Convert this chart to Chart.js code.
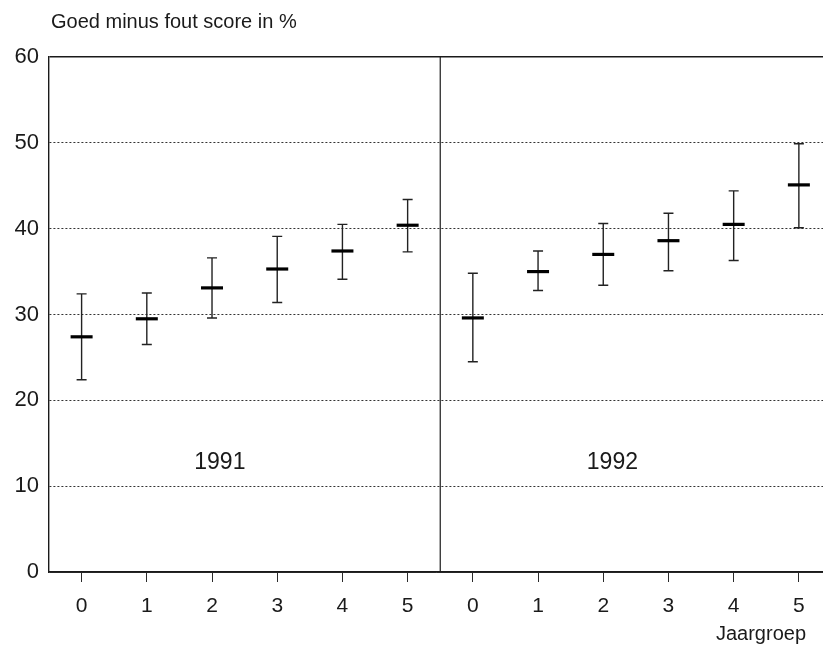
<!DOCTYPE html>
<html>
<head>
<meta charset="utf-8">
<script src="https://cdn.jsdelivr.net/npm/chart.js@4.4.1/dist/chart.umd.min.js"></script>
<style>
  html, body { margin: 0; padding: 0; background: #fff; }
  #wrap { width: 823px; height: 659px; }
</style>
</head>
<body>
<div id="wrap"><canvas id="chart" width="823" height="659"></canvas></div>
<script>
'use strict';

// groepen en jaargroepen
const jaren = ['1991', '1992'];
const jaargroepen = ['0', '1', '2', '3', '4', '5'];
const tickLabels = [...jaargroepen, ...jaargroepen];
const yTicks = [0, 10, 20, 30, 40, 50, 60];

// goed minus fout score (%), gemiddelde en spreiding per jaargroep
const gem1991 = [27.4, 29.5, 33.1, 35.3, 37.4, 40.4];
const hoog1991 = [32.4, 32.5, 36.6, 39.1, 40.5, 43.4];
const laag1991 = [22.4, 26.5, 29.6, 31.4, 34.1, 37.3];
const gem1992 = [29.6, 35.0, 37.0, 38.6, 40.5, 45.1];
const hoog1992 = [34.8, 37.4, 40.6, 41.8, 44.4, 49.9];
const laag1992 = [24.5, 32.8, 33.4, 35.1, 36.3, 40.1];

const gemiddelden = [...gem1991, ...gem1992];
const hoog = [...hoog1991, ...hoog1992];
const laag = [...laag1991, ...laag1992];

const FONT = "'Liberation Sans', Arial, Helvetica, sans-serif";
const INK = '#1a1a1a';

// snorharen (foutbalken) onder de gemiddelden
const errorBars = {
    id: 'errorBars',
    beforeDatasetsDraw(chart) {
        const { ctx, scales: { x, y } } = chart;
        ctx.save();
        ctx.strokeStyle = '#222';
        ctx.lineWidth = 1.4;
        hoog.forEach((hi, i) => {
            const px = x.getPixelForValue(i);
            const yHi = y.getPixelForValue(hi);
            const yLo = y.getPixelForValue(laag[i]);
            ctx.beginPath();
            ctx.moveTo(px, yHi); ctx.lineTo(px, yLo);
            ctx.moveTo(px - 5, yHi); ctx.lineTo(px + 5, yHi);
            ctx.moveTo(px - 5, yLo); ctx.lineTo(px + 5, yLo);
            ctx.stroke();
        });
        ctx.restore();
    },
    afterDraw(chart) {
        const { ctx, chartArea, scales: { x, y } } = chart;
        ctx.save();
        // scheiding tussen de jaren
        const xd = x.getPixelForValue(jaargroepen.length - 0.5);
        ctx.strokeStyle = INK;
        ctx.lineWidth = 1.2;
        ctx.beginPath();
        ctx.moveTo(xd, chartArea.top);
        ctx.lineTo(xd, chartArea.bottom);
        ctx.stroke();

        ctx.fillStyle = INK;
        ctx.textBaseline = 'middle';
        ctx.textAlign = 'center';
        ctx.font = `23px ${FONT}`;
        ctx.fillText(jaren[0], x.getPixelForValue(2.12), y.getPixelForValue(12.7));
        ctx.fillText(jaren[1], x.getPixelForValue(8.14), y.getPixelForValue(12.7));

        ctx.textAlign = 'left';
        ctx.font = `20px ${FONT}`;
        ctx.fillText('Goed minus fout score in %', 51, 22);

        ctx.textAlign = 'right';
        ctx.fillText('Jaargroep', 806, 634);
        ctx.restore();
    }
};

new Chart(document.getElementById('chart'), {
    type: 'scatter',
    data: {
        datasets: [{
            label: 'gemiddelde',
            data: gemiddelden.map((v, i) => ({ x: i, y: v })),
            pointStyle: 'line',
            pointRadius: 11,
            pointHoverRadius: 11,
            borderWidth: 3.2,
            borderColor: '#000',
            backgroundColor: '#000'
        }]
    },
    options: {
        responsive: false,
        animation: false,
        events: [],
        layout: { autoPadding: false, padding: { top: 57, left: 0, right: 0, bottom: 0 } },
        plugins: { legend: { display: false }, tooltip: { enabled: false } },
        scales: {
            x: {
                type: 'linear',
                min: -0.5,
                max: 11.37,
                afterBuildTicks: s => { s.ticks = tickLabels.map((_, i) => ({ value: i })); },
                afterFit: s => { s.height = 87; s.paddingLeft = 0; s.paddingRight = 0; },
                ticks: {
                    callback: v => tickLabels[v],
                    color: INK,
                    font: { family: FONT, size: 21 },
                    padding: 12,
                    maxRotation: 0,
                    autoSkip: false
                },
                grid: { drawOnChartArea: false, drawTicks: true, tickLength: 10, color: '#2a2a2a', lineWidth: 1 },
                border: { display: true, color: INK, width: 1.4 }
            },
            y: {
                min: 0,
                max: 60,
                afterBuildTicks: s => { s.ticks = yTicks.map(v => ({ value: v })); },
                afterFit: s => { s.width = 49; },
                ticks: {
                    color: INK,
                    font: { family: FONT, size: 22 },
                    padding: 10
                },
                grid: {
                    drawTicks: false,
                    color: ctx => (ctx.tick && ctx.tick.value === 60) ? INK : '#333',
                    lineWidth: ctx => (ctx.tick && ctx.tick.value === 60) ? 1.4 : 1
                },
                border: {
                    display: true,
                    color: INK,
                    width: 1.4,
                    dash: ctx => (ctx.tick && (ctx.tick.value === 60 || ctx.tick.value === 0)) ? [] : [2, 2]
                }
            }
        }
    },
    plugins: [errorBars]
});
</script>
</body>
</html>
